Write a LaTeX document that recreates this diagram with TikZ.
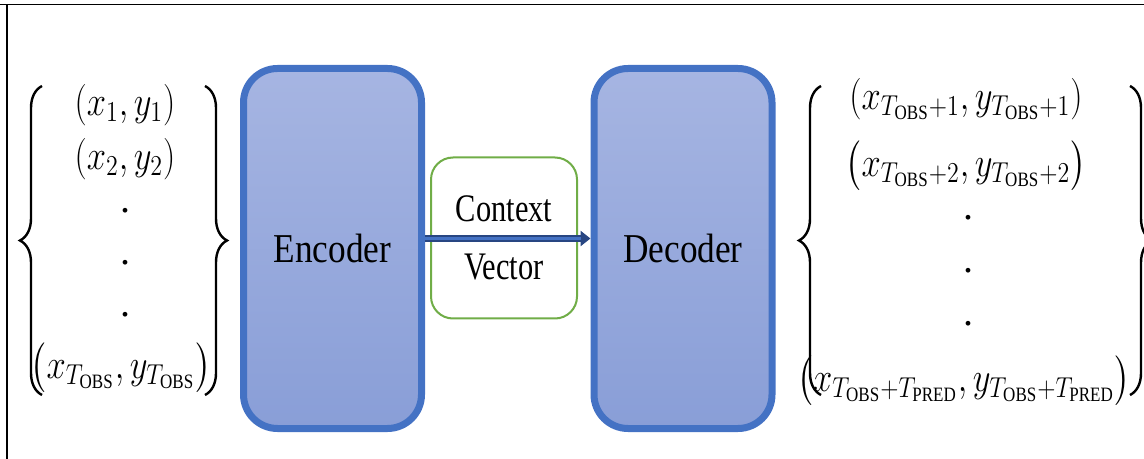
\documentclass[tikz,border=0pt]{standalone}
\usepackage{amsmath}
\usepackage{fontspec}
\setmainfont{Liberation Serif}
\usepackage{graphicx}
\usetikzlibrary{decorations.pathreplacing,arrows.meta}
\definecolor{boxborder}{RGB}{68,114,196}
\definecolor{boxtop}{RGB}{166,181,226}
\definecolor{boxbot}{RGB}{137,158,215}
\definecolor{ctxgreen}{RGB}{112,173,71}
\definecolor{arrdark}{RGB}{40,70,130}
\definecolor{arrmid}{RGB}{68,114,196}
\newcommand{\tallmath}[1]{\scalebox{1}[1.2]{$#1$}}
\tikzset{
  bigbox/.style={draw=boxborder, line width=3.5pt, rounded corners=17pt,
    top color=boxtop, bottom color=boxbot, minimum width=89pt, minimum height=180pt,
    inner sep=0pt, font=\fontsize{20.5}{24}\selectfont},
  ctxbox/.style={draw=ctxgreen, line width=1pt, rounded corners=11pt, fill=white,
    minimum width=73pt, minimum height=80.5pt, inner sep=0pt, align=center,
    font=\fontsize{19.5}{28}\selectfont},
  item/.style={inner sep=0pt, font=\fontsize{17}{20}\selectfont},
  dotitem/.style={inner sep=0pt, font=\fontsize{20}{20}\selectfont},
  curly/.style={decorate, decoration={brace, amplitude=11pt, aspect=0.5}, line width=1.2pt},
  frameline/.style={line width=0.75pt}
}
\begin{document}
\begin{tikzpicture}[x=0.5pt, y=-0.5pt]
\useasboundingbox (0,0) rectangle (1144,459);
% frame
\draw[frameline] (0,4.5) -- (1144,4.5);
\draw[frameline] (7,4.5) -- (7,459);

% left group
\node[item] (l1) at (125,105) {\tallmath{(x_1, y_1)}};
\node[item] (l2) at (125,159) {\tallmath{(x_2, y_2)}};
\node[dotitem] (ld1) at (125,211) {.};
\node[dotitem] (ld2) at (125,263) {.};
\node[dotitem] (ld3) at (125,315) {.};
\node[item] (l4) at (121,368) {\tallmath{\big(x_{T_{\mathrm{OBS}}}, y_{T_{\mathrm{OBS}}}\big)}};
\draw[curly] (42,395) -- (42,86);
\draw[curly] (205,86) -- (205,395);

% boxes
\node[bigbox] (enc) at (332.5,248.5) {\scalebox{0.86}[1]{Encoder}};
\node[bigbox] (dec) at (683,248.5) {\scalebox{0.86}[1]{Decoder}};
\node[ctxbox] (ctx) at (504,238) {\scalebox{0.78}[1]{Context}\\[1pt]\scalebox{0.78}[1]{Vector}};

% arrow
\draw[arrdark, line width=3.5pt, -{Triangle[length=5pt, width=7.5pt]}]
  ([yshift=5pt]enc.east) -- ([yshift=5pt]dec.west);
\draw[arrmid, line width=1.4pt, shorten >=5pt]
  ([yshift=5pt]enc.east) -- ([yshift=5pt]dec.west);

% right group
\node[item] (r1) at (966,99) {\tallmath{(x_{T_{\mathrm{OBS}}+1}, y_{T_{\mathrm{OBS}}+1})}};
\node[item] (r2) at (966,166) {\tallmath{\big(x_{T_{\mathrm{OBS}}+2}, y_{T_{\mathrm{OBS}}+2}\big)}};
\node[dotitem] (rd1) at (968,218) {.};
\node[dotitem] (rd2) at (968,271) {.};
\node[dotitem] (rd3) at (968,324) {.};
\node[item] (r4) at (964,381) {\tallmath{\big(x_{T_{\mathrm{OBS}}+T_{\mathrm{PRED}}}, y_{T_{\mathrm{OBS}}+T_{\mathrm{PRED}}}\big)}};
\draw[curly] (821,395) -- (821,86);
\draw[curly] (1130,86) -- (1130,395);
\end{tikzpicture}
\end{document}
